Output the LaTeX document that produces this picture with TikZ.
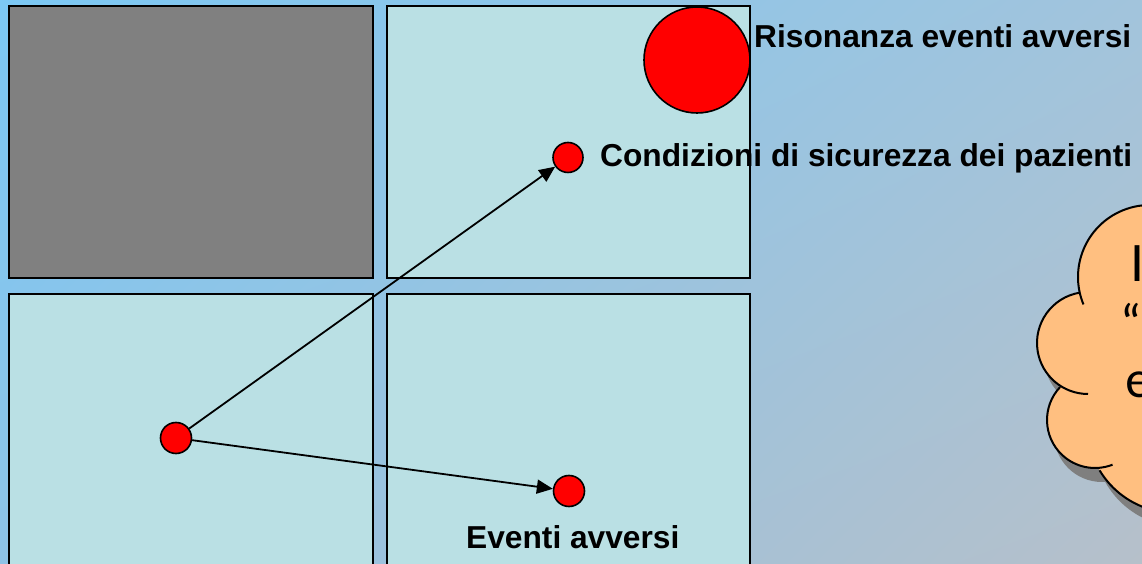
\documentclass[tikz,border=0pt]{standalone}
\usepackage{fontspec}
\setmainfont{Liberation Sans}
\newfontfamily\cloudfont{Lato}
\usetikzlibrary{arrows.meta,shadings,calc}
\definecolor{bgUL}{HTML}{7CC8F4}
\definecolor{bgUR}{HTML}{A2C4DC}
\definecolor{bgLL}{HTML}{8EC3E6}
\definecolor{bgLR}{HTML}{B6C0CA}
\definecolor{panel}{HTML}{BAE0E4}
\definecolor{panelgray}{HTML}{808080}
\definecolor{cloudfill}{HTML}{FFBF80}
\definecolor{shadowgray}{HTML}{7F7F7F}
\tikzset{
  panelbox/.style={draw=black, line width=2pt, fill=panel},
  dot/.style={circle, draw=black, fill=red, line width=1.6pt, inner sep=0pt, minimum size=#1},
  arr/.style={line width=1.8pt, -{Triangle[length=16pt,width=14pt]}},
  lbl/.style={inner sep=0pt, anchor=base west, font=\fontsize{31.7}{38}\selectfont\bfseries},
  cloudtxt/.style={inner sep=0pt, anchor=base west, font=\cloudfont\fontsize{50}{60}\selectfont},
  cloudline/.style={draw=black, line width=2pt}
}
\begin{document}
\begin{tikzpicture}[x=1pt,y=1pt]
\useasboundingbox (0,0) rectangle (1142,564);
\clip (0,0) rectangle (1142,564);
% background
\shade[upper left=bgUL, upper right=bgUR, lower left=bgLL, lower right=bgLR] (0,0) rectangle (1142,564);
% panels
\draw[panelbox, fill=panelgray] (9,286) rectangle (373,558);
\draw[panelbox] (387,286) rectangle (750,558);
\draw[panelbox] (9,-8) rectangle (373,270);
\draw[panelbox] (387,-8) rectangle (750,270);
% dots
\node[dot=106pt] (big) at (697,504) {};
\node[dot=30pt] (cond) at (568,406.5) {};
\node[dot=31pt] (src) at (176,126) {};
\node[dot=31pt] (evt) at (569,73) {};
% arrows
\draw[arr] (src) -- (cond);
\draw[arr] (src) -- (evt);
% labels
\node[lbl] (lrison) at (754,516.5) {Risonanza eventi avversi};
\node[lbl] (lcond) at (600,397.5) {Condizioni di sicurezza dei pazienti};
\node[lbl] (levt) at (466,15) {Eventi avversi};
% cloud shadow
\begin{scope}[shift={(7,-14)}]
  \fill[shadowgray] (1150,287) circle (72);
  \fill[shadowgray] (1088,221) circle (51);
  \fill[shadowgray] (1095,144) circle (48);
  \fill[shadowgray] (1175,139) circle (88);
  \fill[shadowgray] (1200,204) circle (120);
\end{scope}
% cloud fill
\fill[cloudfill] (1150,287) circle (72);
\fill[cloudfill] (1088,221) circle (51);
\fill[cloudfill] (1095,144) circle (48);
\fill[cloudfill] (1175,139) circle (88);
\fill[cloudfill] (1200,204) circle (120);
% cloud outline
\draw[cloudline] ($(1150,287)+(202.4:72)$) arc (202.4:60:72);
\draw[cloudline] ($(1088,221)+(99:51)$) arc (99:270:51);
\draw[cloudline] ($(1095,144)+(136.7:48)$) arc (136.7:291.4:48);
\draw[cloudline] ($(1175,139)+(211:88)$) arc (211:300:88);
% cloud text
\node[cloudtxt] (c1) at (1130,282) {I};
\node[cloudtxt] (c2) at (1122,222) {“};
\node[cloudtxt] (c3) at (1125,166) {e};
\end{tikzpicture}
\end{document}
